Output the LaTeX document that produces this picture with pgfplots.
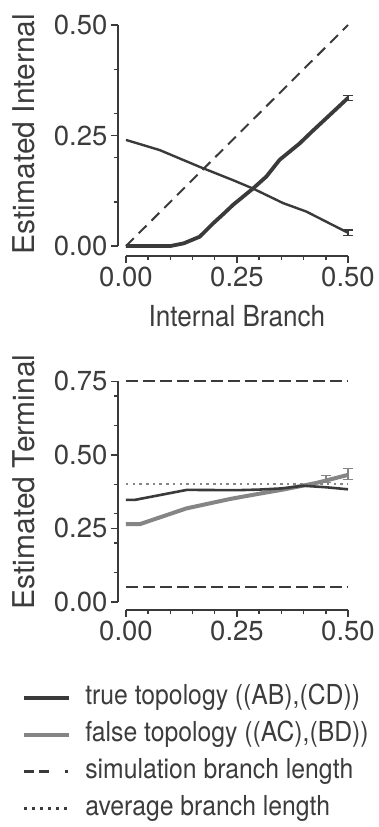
\documentclass[border=0pt]{standalone}
\usepackage{pgfplots}
\pgfplotsset{compat=1.18}
\usepackage{fontspec}
\setmainfont{TeX Gyre Heros}
\newfontfamily\condfont{TeX Gyre Heros}[FakeStretch=0.9]
\definecolor{dk}{HTML}{3A3A3A}
\definecolor{gr}{HTML}{858585}
\definecolor{txt}{HTML}{3C3C3C}
\begin{document}
\begin{tikzpicture}
\pgfplotsset{
  myax/.style={
    scale only axis, width=230pt,
    xmin=-0.018, xmax=0.5,
    axis lines=left,
    axis line style={draw=none},
    tick align=outside,
    major tick length=7pt, minor tick length=3.5pt,
    every tick/.style={draw=dk, line width=1.4pt},
    xtick={0,0.25,0.5},
    minor xtick={0.05,0.1,0.15,0.2,0.3,0.35,0.4,0.45},
    /pgf/number format/assume math mode=true,
    /pgf/number format/fixed, /pgf/number format/fixed zerofill,
    /pgf/number format/precision=2,
    tick label style={font=\fontsize{27.5}{30}\selectfont, text=txt},
    clip=false,
  },
}
% ---------------- top axis ----------------
\begin{axis}[myax, height=231pt, ymin=-0.0226, ymax=0.5,
  ytick={0,0.25,0.5},
  minor ytick={0.1,0.2,0.3,0.4},
  xlabel={Internal Branch},
  ylabel={Estimated Internal},
  every axis x label/.style={at={([yshift=-49pt]axis description cs:0.517,0)}, anchor=north, inner sep=0pt, font=\condfont\fontsize{29}{32}\selectfont, text=txt},
  every axis y label/.style={at={([xshift=-83pt]axis description cs:0,0.528)}, rotate=90, anchor=south, inner sep=0pt, font=\fontsize{30}{32}\selectfont, text=txt},
]
\draw[dk, line width=2pt] (axis cs:0,-0.0226) -- (axis cs:0.5,-0.0226);
\draw[dk, line width=2pt] (axis cs:-0.018,0) -- (axis cs:-0.018,0.5);
\addplot[dk, line width=2pt, dash pattern=on 11pt off 7pt] coordinates {(0,0) (0.5,0.5)};
\addplot[dk, line width=2.4pt] coordinates {
(0,0.240) (0.076,0.217) (0.166,0.179) (0.241,0.149) (0.286,0.130) (0.354,0.097) (0.406,0.078) (0.451,0.055) (0.5,0.030)};
\addplot[dk, line width=3.8pt, line join=round] coordinates {
(0,0) (0.05,0) (0.1,0.0) (0.13,0.006) (0.166,0.021) (0.196,0.051) (0.22,0.073) (0.241,0.093) (0.286,0.130) (0.316,0.157) (0.346,0.195) (0.391,0.232) (0.42,0.26) (0.451,0.289) (0.5,0.335)};
\addplot[draw=none, mark=none, error bars/.cd, y dir=both, y explicit,
  error bar style={dk, line width=1.4pt}, error mark options={dk, line width=1.4pt, mark size=5pt, rotate=90}]
  coordinates {(0.5,0.335) +- (0,0.006) (0.5,0.030) +- (0,0.006)};
\end{axis}
% ---------------- bottom axis ----------------
\begin{axis}[myax, at={(0,-354pt)}, height=228.7pt, ymin=-0.0272, ymax=0.75,
  ytick={0,0.25,0.5,0.75},
  minor ytick={0.1,0.2,0.3,0.4,0.6,0.7},
  ylabel={Estimated Terminal},
  every axis y label/.style={at={([xshift=-83pt]axis description cs:0,0.56)}, rotate=90, anchor=south, inner sep=0pt, font=\fontsize{30}{32}\selectfont, text=txt},
  legend style={at={(axis description cs:-0.417,-0.325)}, anchor=north west, draw=none, fill=none,
    font=\condfont\fontsize{27.5}{30}\selectfont, text=txt, row sep=11pt, inner sep=0pt,
    nodes={text height=20pt, text depth=6pt, inner sep=0pt}},
  legend cell align=left,
  /tikz/every odd column/.append style={column sep=14pt},
  legend image code/.code={\draw[#1] (0pt,0pt) -- (45pt,0pt);},
]
\draw[dk, line width=2pt] (axis cs:0,-0.0272) -- (axis cs:0.5,-0.0272);
\draw[dk, line width=2pt] (axis cs:-0.018,0) -- (axis cs:-0.018,0.75);
\addplot[dk, line width=2pt, dash pattern=on 12pt off 5pt, forget plot] coordinates {(0,0.75) (0.5,0.75)};
\addplot[dk, line width=2pt, dash pattern=on 12pt off 5pt, forget plot] coordinates {(0,0.05) (0.5,0.05)};
\addplot[gr, line width=2pt, dash pattern=on 2.5pt off 4.2pt, forget plot] coordinates {(0,0.402) (0.5,0.402)};
\addplot[gr, line width=4pt, forget plot] coordinates {
(0,0.265) (0.032,0.265) (0.136,0.318) (0.234,0.35) (0.3,0.368) (0.354,0.382) (0.43,0.405) (0.5,0.432)};
\addplot[dk, line width=2.6pt, forget plot] coordinates {
(0,0.347) (0.02,0.347) (0.137,0.381) (0.25,0.38) (0.3,0.382) (0.35,0.386) (0.4,0.395) (0.45,0.39) (0.5,0.383)};
\addplot[draw=none, mark=none, forget plot, error bars/.cd, y dir=both, y explicit,
  error bar style={gr, line width=1.4pt}, error mark options={gr, line width=1.4pt, mark size=5pt, rotate=90}]
  coordinates {(0.45,0.418) +- (0,0.012) (0.5,0.435) +- (0,0.018)};
\addlegendimage{dk, line width=4pt}
\addlegendentry{true topology ((AB),(CD))}
\addlegendimage{gr, line width=4pt}
\addlegendentry{false topology ((AC),(BD))}
\addlegendimage{dk, line width=3.5pt, dash pattern=on 10pt off 5pt on 10pt off 16pt on 3pt off 10pt}
\addlegendentry{simulation branch length}
\addlegendimage{dk, line width=3pt, dash pattern=on 2.5pt off 5.5pt}
\addlegendentry{average branch length}
\end{axis}
\pgfresetboundingbox
\path[use as bounding box] (-118pt,-571pt) rectangle (260pt,256pt);
\end{tikzpicture}
\end{document}
